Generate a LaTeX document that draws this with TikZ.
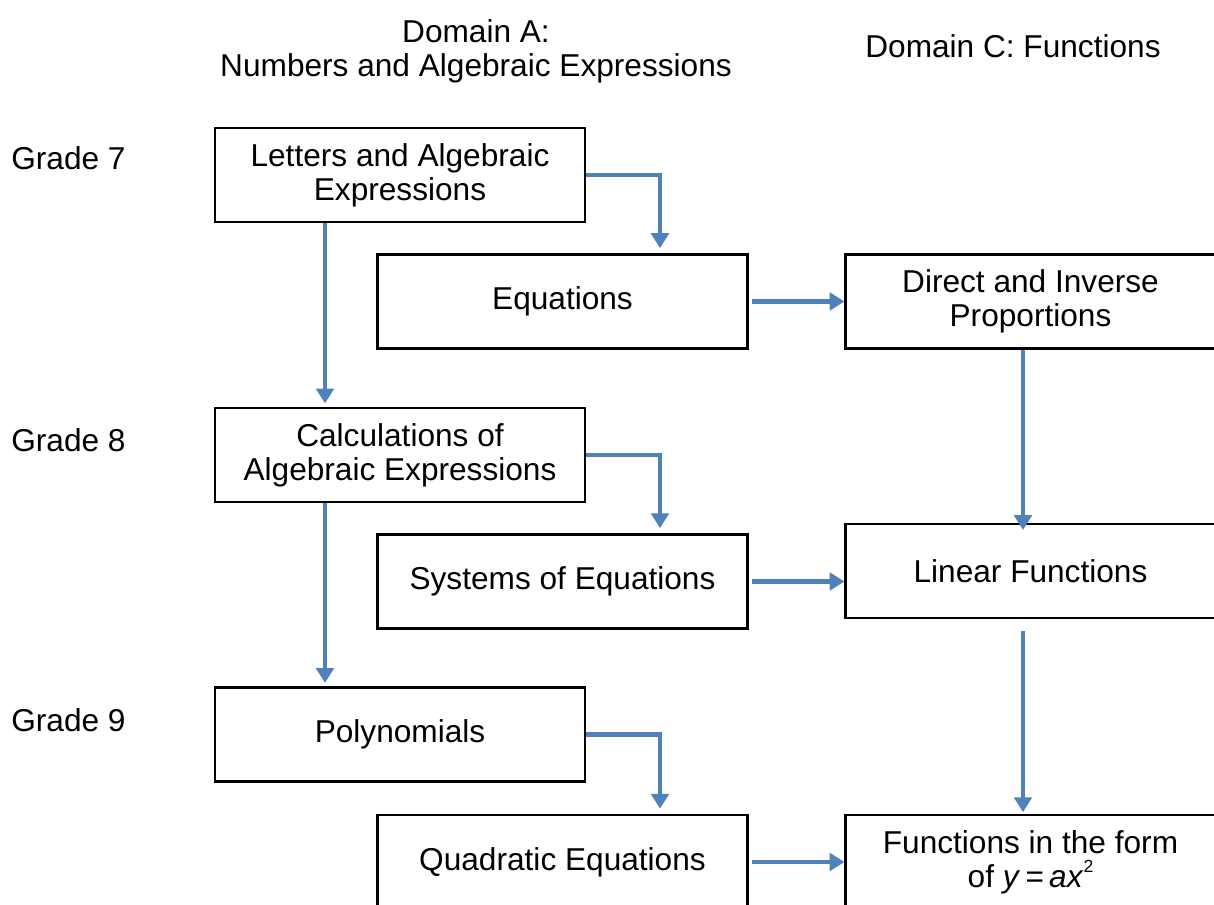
\documentclass[tikz,border=0pt]{standalone}
\usepackage{fontspec}
\setmainfont{Liberation Sans}
\usetikzlibrary{arrows.meta}
\definecolor{linkblue}{RGB}{79,129,189}

\begin{document}
\begin{tikzpicture}[x=0.02cm, y=-0.02cm,
    every node/.style={font=\fontsize{18}{19.5}\selectfont},
    topic/.style={draw, line width=1.2pt, minimum width=7.4cm, minimum height=1.88cm,
                  align=center, inner sep=0pt},
    link/.style={draw=linkblue, color=linkblue, line width=2.4pt,
                 -{Triangle[width=10pt,length=8.5pt]}}]
    \useasboundingbox (0,0) rectangle (1214,905);
    \clip (0,0) rectangle (1214,905);
    % Draw headings and grade labels
    \node (hdrA) [align=center] at (476,51) {Domain A:\\Numbers and Algebraic Expressions};
    \node (hdrC) at (1013,46) {Domain C: Functions};
    \node (gradeseven) [anchor=west, inner sep=0pt] at (11,158) {Grade 7};
    \node (gradeeight) [anchor=west, inner sep=0pt] at (11,440) {Grade 8};
    \node (gradenine) [anchor=west, inner sep=0pt] at (11,720) {Grade 9};
    % Draw topic boxes
    \node (letters) [topic] at (400,175) {Letters and Algebraic\\Expressions};
    \node (equations) [topic] at (562.5,301.5) {Equations};
    \node (proportions) [topic] at (1030.5,301.5) {Direct and Inverse\\Proportions};
    \node (calculations) [topic] at (400,455) {Calculations of\\Algebraic Expressions};
    \node (systems) [topic] at (562.5,581.5) {Systems of Equations};
    \node (linear) [topic] at (1030.5,571) {Linear Functions};
    \node (polynomials) [topic] at (400,734.5) {Polynomials};
    \node (quadratic) [topic] at (562.5,862) {Quadratic Equations};
    \node (quadform) [topic] at (1030.5,862) {Functions in the form\\of \textit{y}\,=\,\textit{ax}\raisebox{0.9ex}{\fontsize{10}{10}\selectfont 2}};
    % Columns of the vertical links
    \coordinate (colA) at (325,0);
    \coordinate (elbow) at (660,0);
    \coordinate (colC) at (1023,0);
    % Draw links
    \draw [link, shorten >=3pt] (letters.east) -| (elbow |- equations.north); % into equations
    \draw [link, shorten >=2pt] (letters.south -| colA) -- (calculations.north -| colA);
    \draw [link, shorten <=2pt] (equations.east) -- (equations.east -| proportions.west);
    \draw [link, shorten >=-4pt] (proportions.south -| colC) -- (linear.north -| colC);
    \draw [link, shorten >=3pt] (calculations.east) -| (elbow |- systems.north); % into systems
    \draw [link, shorten >=2pt] (calculations.south -| colA) -- (polynomials.north -| colA);
    \draw [link, shorten <=2pt] (systems.east) -- (systems.east -| linear.west);
    \draw [link, shorten <=7pt, shorten >=1pt] (linear.south -| colC) -- (quadform.north -| colC);
    \draw [link, shorten >=3pt] (polynomials.east) -| (elbow |- quadratic.north); % into quadratic
    \draw [link, shorten <=2pt] (quadratic.east) -- (quadform.west);
\end{tikzpicture}
\end{document}
